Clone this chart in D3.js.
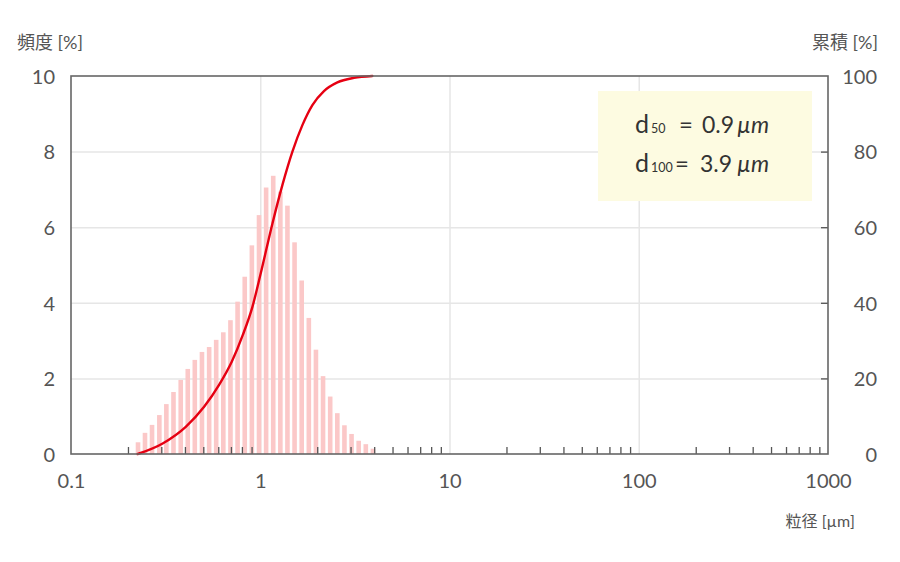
<html>
<head>
    <style>
        body { margin: 0; background: #fff; }
        text { font-family: Lato, "Noto Sans CJK JP", sans-serif; fill: #555; }
        .grid line { stroke: #e6e6e6; stroke-width: 1.5px; }
    </style>
</head>
<body>
    <svg id="container" width="900" height="562">
        <g id="body" transform="translate(71,76)"></g>
    </svg>
<script src="https://d3js.org/d3.v7.min.js"></script>
<script>
    // particle size classes (um) and frequency (%)
    let sizes = [0.226, 0.246, 0.268, 0.293, 0.319, 0.348, 0.380, 0.414, 0.451, 0.492,
                 0.537, 0.585, 0.638, 0.696, 0.759, 0.828, 0.903, 0.985, 1.074, 1.171,
                 1.277, 1.392, 1.518, 1.656, 1.806, 1.969, 2.147, 2.342, 2.554, 2.785,
                 3.037, 3.312, 3.612, 3.939]
    let freq = [0.31, 0.56, 0.77, 1.03, 1.32, 1.64, 1.96, 2.25, 2.49, 2.70,
                2.83, 3.02, 3.22, 3.54, 4.03, 4.69, 5.52, 6.32, 7.05, 7.36,
                6.94, 6.57, 5.60, 4.59, 3.60, 2.76, 2.06, 1.52, 1.08, 0.76,
                0.53, 0.35, 0.26, 0.14]

    // cumulative curve (um, %)
    let cumSizes = [0.225, 0.305, 0.404, 0.505, 0.606, 0.707, 0.809, 0.910, 1.006,
                    1.160, 1.31, 1.479, 1.670, 1.886, 2.171, 2.556, 3.126, 3.91]
    let cumValues = [0, 2.8, 7.2, 12.5, 18.3, 24.4, 31.5, 39, 47.8,
                     61, 71.2, 80, 87, 92.3, 96, 98.3, 99.5, 100]

    let xTicks = [0.1, 1, 10, 100, 1000]
    let xTickLabels = ["0.1", "1", "10", "100", "1000"]
    let leftTicks = [0, 2, 4, 6, 8, 10]
    let rightTicks = [0, 20, 40, 60, 80, 100]

    let bodyWidth = 757
    let bodyHeight = 378
    let body = d3.select("#body")

    let xScale = d3.scaleLog().domain([0.1, 1000]).range([0, bodyWidth])
    let yScale = d3.scaleLinear().domain([0, 10]).range([bodyHeight, 0])
    let y2Scale = d3.scaleLinear().domain([0, 100]).range([bodyHeight, 0])

    // gridlines
    body.append("g").attr("class", "grid")
        .call(d3.axisLeft(yScale).tickValues([2, 4, 6, 8]).tickSize(-bodyWidth).tickFormat(""))
        .call(g => g.select(".domain").remove())
    body.append("g").attr("class", "grid")
        .attr("transform", "translate(0," + bodyHeight + ")")
        .call(d3.axisBottom(xScale).tickValues([1, 10, 100]).tickSize(-bodyHeight).tickFormat(""))
        .call(g => g.select(".domain").remove())

    // bars
    let barW = 4.6
    body.selectAll("rect.bar")
        .data(sizes)
        .enter().append("rect")
        .attr("class", "bar")
        .attr("x", (d, i) => xScale(d) - barW / 2)
        .attr("y", (d, i) => yScale(freq[i]))
        .attr("width", barW)
        .attr("height", (d, i) => bodyHeight - yScale(freq[i]))
        .attr("fill", "#fbc8c8")

    // minor ticks on bottom
    let minor = []
    ;[0.1, 1, 10, 100].forEach(dec => { for (let k = 2; k <= 9; k++) minor.push(dec * k) })
    body.append("g")
        .attr("transform", "translate(0," + bodyHeight + ")")
        .call(d3.axisBottom(xScale).tickValues(minor).tickSize(-7).tickFormat(""))
        .call(g => g.select(".domain").remove())
        .call(g => g.selectAll("line").style("stroke", "#555").style("stroke-width", "1.3px"))

    // right side inward ticks
    body.append("g")
        .attr("transform", "translate(" + bodyWidth + ",0)")
        .call(d3.axisRight(y2Scale).tickValues([20, 40, 60, 80]).tickSize(-7).tickFormat(""))
        .call(g => g.select(".domain").remove())
        .call(g => g.selectAll("line").style("stroke", "#555").style("stroke-width", "1.3px"))

    // cumulative line
    let cumLine = d3.line().curve(d3.curveMonotoneX)
        .x((d, i) => xScale(d))
        .y((d, i) => y2Scale(cumValues[i]))
    body.append("path")
        .datum(cumSizes)
        .attr("d", cumLine)
        .attr("fill", "none")
        .attr("stroke", "#e60012")
        .attr("stroke-width", 2.4)
        .attr("stroke-linecap", "round")

    // frame
    body.append("rect")
        .attr("width", bodyWidth).attr("height", bodyHeight)
        .attr("fill", "none").attr("stroke", "#666").attr("stroke-width", 1.6)

    // tick labels
    body.append("g")
        .call(d3.axisLeft(yScale).tickValues(leftTicks).tickSize(0).tickPadding(16))
        .call(g => g.select(".domain").remove())
        .call(g => g.selectAll("text").style("font-size", "20px").attr("dy", "0.36em"))
    body.append("g")
        .attr("transform", "translate(" + bodyWidth + ",0)")
        .call(d3.axisRight(y2Scale).tickValues(rightTicks).tickSize(0).tickPadding(49))
        .call(g => g.select(".domain").remove())
        .call(g => g.selectAll("text").style("font-size", "20px").attr("text-anchor", "end").attr("dy", "0.36em"))
    body.append("g")
        .attr("transform", "translate(0," + bodyHeight + ")")
        .call(d3.axisBottom(xScale).tickValues(xTicks).tickSize(0).tickPadding(20)
              .tickFormat((d, i) => xTickLabels[i]))
        .call(g => g.select(".domain").remove())
        .call(g => g.selectAll("text").style("font-size", "20px"))

    // axis titles
    let svg = d3.select("#container")
    svg.append("text").attr("x", 17).attr("y", 49).text("頻度 [%]").style("font-size", "18px")
    svg.append("text").attr("x", 878).attr("y", 49).attr("text-anchor", "end").text("累積 [%]").style("font-size", "18px")
    svg.append("text").attr("x", 855).attr("y", 527).attr("text-anchor", "end").text("粒径 [µm]").style("font-size", "16px")

    // legend box
    let leg = svg.append("g")
    leg.append("rect").attr("x", 598).attr("y", 91).attr("width", 214).attr("height", 110).attr("fill", "#fdfbe1")
    let rows = [["50", "0.9", 133, 679, 702], ["100", "3.9", 172, 675, 700]]
    rows.forEach(r => {
        leg.append("text").attr("x", 635).attr("y", r[2]).text("d").style("font-size", "25px").style("fill", "#333")
        leg.append("text").attr("x", 651).attr("y", r[2]).text(r[0]).style("font-size", "12.5px").style("fill", "#333")
        leg.append("text").attr("x", r[3]).attr("y", r[2]).text("=").style("font-size", "24px").style("fill", "#333")
        leg.append("text").attr("x", r[4]).attr("y", r[2]).text(r[1]).style("font-size", "23px").style("fill", "#333")
        leg.append("text").attr("x", 737).attr("y", r[2]).text("µm").style("font-size", "23px").style("font-style", "italic").style("fill", "#333")
    })
</script>
</body>
</html>
